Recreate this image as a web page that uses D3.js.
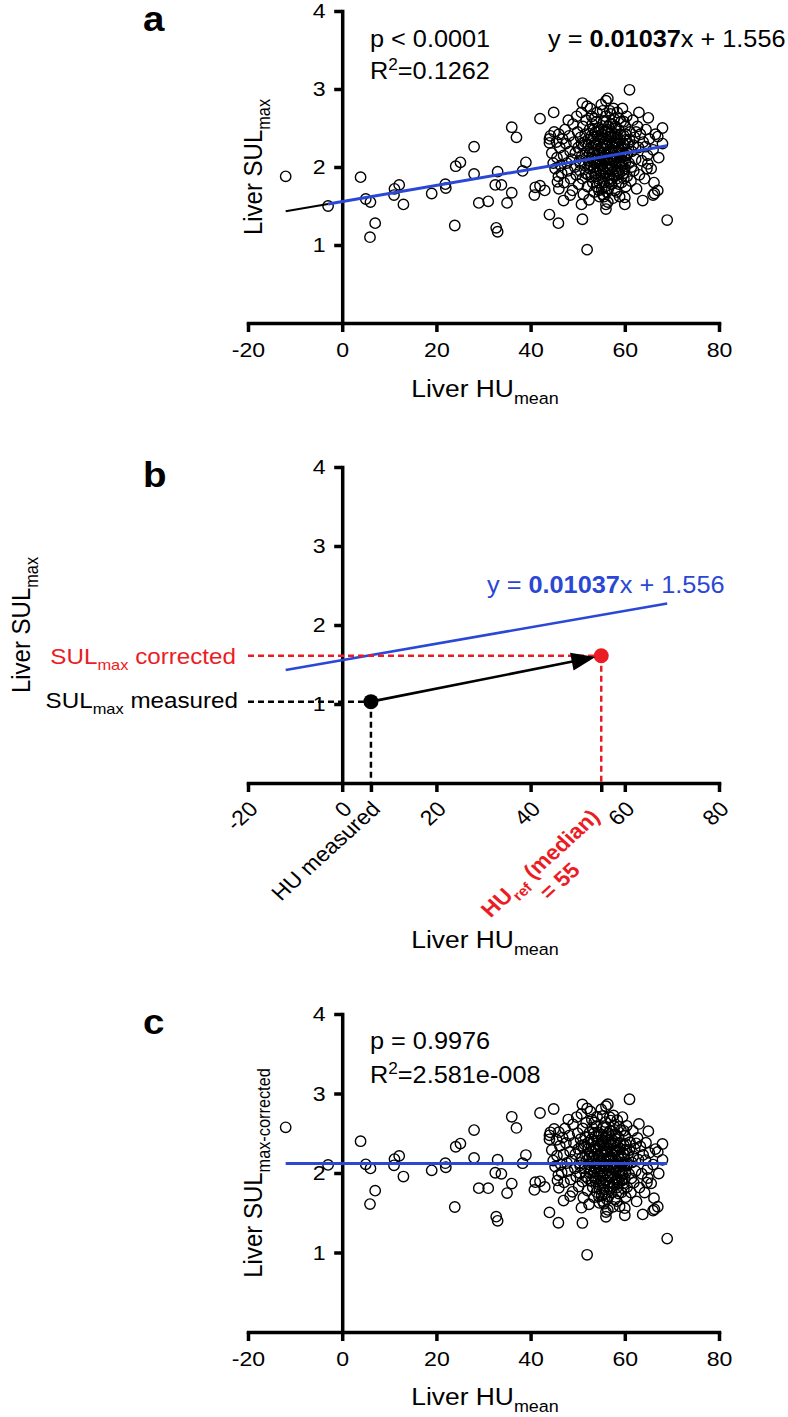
<!DOCTYPE html>
<html><head><meta charset="utf-8">
<script src="https://cdn.jsdelivr.net/npm/d3@7/dist/d3.min.js"></script>
<style>
html,body{margin:0;padding:0;background:#fff;}
svg text{font-family:"Liberation Sans",Arial,Helvetica,sans-serif;}
</style></head>
<body>
<svg id="chart" width="788" height="1417"></svg>
<script>
// ---------------- data ----------------
const huTicks = [-20, 0, 20, 40, 60, 80];
const sulTicks = [1, 2, 3, 4];

// sparse points of panel a: [Liver HU_mean, Liver SUL_max]
const outlierPoints = [
  [-12,1.88],[-3,1.50],[3.9,1.87],[5,1.59],[6,1.55],[7,1.28],[5.9,1.10],[11,1.64],[11.1,1.72],[12.1,1.77],
  [13,1.52],[19,1.66],[21.9,1.78],[22,1.73],[23.9,1.25],[24.1,2.01],[25.1,2.06],[28,2.26],[28,1.91],[29,1.54],
  [31,1.56],[32.5,1.77],[33.8,1.77],[32.7,1.22],[33,1.17],[33,1.94],[35,1.54],[36,1.67],[36,2.51],[37,2.38],
  [38.3,1.95],[39,2.06],[40.8,1.64],[41,1.74],[42,1.76],[42,2.62],[43,1.70],[44,1.39],[44,2.36],[44,2.31],
  [44.9,2.70],[45.7,1.81],[45.9,1.28],[46,1.72],[47,1.57],[48.4,1.64],[50.8,1.52],[51,1.33],[51,2.82],[52,0.94],
  [52,2.78],[56,2.85],[56,1.52],[56,1.46],[60,1.61],[60,1.52],[61,2.99],[63,2.70],[63.8,1.57],[64.4,2.26],
  [64.9,2.04],[64.7,1.98],[65,2.63],[66,1.64],[66.3,1.66],[67,1.70],[67,2.39],[68,2.50],[68,2.30],[69,1.32]
];
// dense cluster of panel a
const clusterPoints = [
  [44.2,2.40],[44.5,2.18],[44.8,2.05],[45.0,2.45],[45.2,1.98],[45.5,2.32],[45.6,2.12],[45.9,1.88],[46.0,2.42],[46.2,2.25],
  [46.4,2.02],[46.6,1.92],[46.8,2.36],[47.0,2.15],[47.1,1.80],[47.3,2.48],[47.5,2.30],[47.7,2.05],[47.9,1.95],[48.0,2.60],
  [48.2,2.40],[48.4,2.20],[48.5,1.85],[48.7,2.10],[48.9,1.70],[49.0,2.55],[49.2,2.32],[49.4,2.00],[49.5,2.18],[49.7,1.90],
  [49.8,2.65],[50.0,2.45],[50.1,2.25],[50.2,1.78],[50.4,2.08],[50.5,1.95],[50.6,2.38],[50.8,2.70],[50.9,2.15],[51.0,1.85],
  [51.1,2.52],[51.2,1.65],[51.3,2.28],[51.5,2.02],[51.6,2.42],[51.7,1.92],[51.8,2.60],[52.0,2.20],[52.1,1.75],[52.2,2.35],
  [52.3,2.08],[52.4,1.58],[52.5,2.48],[52.6,1.98],[52.7,2.75],[52.8,2.25],[52.9,1.88],[53.0,2.12],[53.1,2.55],[53.2,1.80],
  [53.3,2.38],[53.4,2.00],[53.5,1.68],[53.5,2.62],[53.6,2.22],[53.7,1.92],[53.8,2.45],[53.9,2.05],[54.0,1.75],[54.0,2.30],
  [54.1,2.70],[54.2,1.98],[54.3,2.15],[54.4,1.85],[54.5,2.50],[54.5,2.08],[54.6,1.62],[54.7,2.35],[54.8,1.95],[54.9,2.25],
  [55.0,2.80],[55.0,2.02],[55.1,1.72],[55.2,2.42],[55.3,2.12],[55.4,1.88],[55.5,2.58],[55.5,2.18],[55.6,1.80],[55.7,2.32],
  [55.8,2.00],[55.9,2.65],[56.0,1.92],[56.0,2.40],[56.1,2.10],[56.2,1.68],[56.3,2.28],[56.4,1.55],[56.5,2.52],[56.5,2.05],
  [56.6,1.85],[56.7,2.20],[56.8,2.72],[56.9,1.96],[57.0,2.38],[57.1,2.10],[57.2,1.78],[57.3,2.55],[57.4,2.00],[57.5,2.25],
  [57.6,1.90],[57.7,2.62],[57.8,2.15],[57.9,1.70],[58.0,2.42],[58.1,2.05],[58.2,2.32],[58.3,1.85],[58.4,2.70],[58.5,2.12],
  [58.6,1.95],[58.7,2.48],[58.8,2.22],[58.9,1.62],[59.0,2.35],[59.1,2.00],[59.2,2.58],[59.3,1.80],[59.4,2.18],[59.5,2.75],
  [59.6,2.08],[59.7,1.92],[59.8,2.40],[59.9,2.28],[60.0,1.98],[60.1,2.52],[60.2,1.75],[60.3,2.15],[60.4,2.65],[60.5,1.88],
  [60.7,2.30],[60.9,2.05],[61.1,2.45],[61.3,1.82],[61.5,2.20],[61.7,2.60],[61.9,1.95],[62.1,2.38],[62.3,2.10],[62.5,1.72],
  [62.7,2.52],[62.9,2.25],[63.1,1.90],[63.3,2.42],[63.6,2.08],[63.9,2.32],[64.2,1.85],[64.5,2.48],[64.8,2.15],[65.2,2.36],
  [65.6,1.98],[66.0,2.22],[66.5,2.42],[67.2,2.12],[66.2,1.80],[53.2,2.18],[53.6,2.05],[53.9,2.28],[54.2,2.40],[54.4,2.20],
  [54.7,2.05],[54.9,1.90],[55.2,2.25],[55.4,2.35],[55.6,2.08],[55.8,2.45],[56.1,2.30],[56.3,1.98],[56.6,2.38],[56.8,2.12],
  [57.0,1.98],[57.2,2.45],[57.4,2.30],[57.6,2.08],[57.8,1.88],[58.0,2.20],[58.2,1.95],[58.4,2.38],[58.6,2.25],[58.9,2.05],
  [59.1,2.42],[59.3,2.15],[59.6,2.30],[59.8,1.85],[60.1,2.05],[60.3,2.35],[53.4,2.48],[54.0,2.58],[55.0,2.48],[56.0,2.58],
  [57.0,2.68],[58.0,2.52],[52.5,2.18],[52.8,2.02],[51.8,2.12],[51.5,2.32],[50.8,2.30],[50.5,2.05],[54.6,1.80],[55.8,1.75],
  [56.9,1.82],[57.9,2.30],[58.7,1.78],[59.4,1.95],[53.8,1.88],[52.2,1.90],[55.3,1.65],[56.5,1.72],[57.5,1.60],[58.3,1.68],
  [52.3,2.28],[52.9,2.40],[53.3,1.95],[53.7,2.32],[54.1,2.10],[54.3,2.45],[54.8,2.15],[55.1,2.38],[55.3,1.98],[55.7,2.12],
  [55.9,2.28],[56.2,2.48],[56.4,2.18],[56.7,1.90],[57.1,2.22],[57.3,1.85],[57.7,2.40],[57.9,2.10],[58.1,2.50],[58.5,2.32],
  [58.8,1.92],[59.0,2.12],[59.2,2.25],[59.5,2.02],[59.9,2.15],[60.2,2.42],[60.6,2.18],[61.0,2.35],[61.4,2.00],[61.8,2.28],
  [54.5,1.70],[55.6,1.62],[56.9,2.55],[57.6,2.75],[58.8,2.62],[53.0,2.65],[55.3,2.72],[56.4,2.88],[59.8,2.58],[62.4,2.45]
];

// linear fit of panel a (as printed on the chart)
const fitSlope = 0.01037;
const fitIntercept = 1.556;
const fitRange = [-3, 69];
const fitExtension = [-12, -3];
const fitRangeB = [-12, 69];
// panel c fit (slope ~0)
const correctedFitLevel = 2.12;
const correctedFitRange = [-12, 69];
// panel b schematic
const huRef = 55;
const exampleMeasured = [6.1, 1.03];
const exampleCorrected = [55, 1.61];

// ---------------- drawing ----------------
const svg = d3.select('#chart');
const SX = 1.1, FS = 21, AS = 23, TS = 24;
const FONT = '"Liberation Sans", Arial, Helvetica, sans-serif';
const BLUE = '#2a47d6', RED = '#ec1c24';

const measuredPoints = outlierPoints.concat(clusterPoints);
// SUL_max-corrected = SUL_max + slope * (HU_ref - HU)
const correctedPoints = measuredPoints.map(([h, s]) => [h, s + fitSlope * (huRef - h)]);

const x = d3.scaleLinear().domain([-20, 80]).range([248, 719]);
const yA = d3.scaleLinear().domain([0, 4]).range([323, 11]);
const yB = d3.scaleLinear().domain([0, 4]).range([783, 467]);
const yC = d3.scaleLinear().domain([0, 4]).range([1332, 1014]);

function rich(parent, px, py, segs, o = {}) {
  const size = o.size || AS;
  let tr = `translate(${px},${py}) scale(${SX},1)`;
  if (o.rotate) tr += ` rotate(${o.rotate})`;
  const t = parent.append('text').attr('transform', tr)
    .attr('x', o.lx || 0).attr('y', o.ly || 0)
    .attr('text-anchor', o.anchor || 'start')
    .attr('font-size', size)
    .attr('font-weight', o.weight || 'normal')
    .attr('fill', o.fill || '#000');
  let shift = 0;
  segs.forEach(s => {
    const seg = typeof s === 'string' ? { t: s } : s;
    const target = seg.sub ? size * 0.3 : seg.sup ? -size * 0.38 : 0;
    const ts = t.append('tspan').text(seg.t).attr('dy', target - shift);
    if (seg.sub || seg.sup) ts.attr('font-size', size * 0.68);
    if (seg.bold) ts.attr('font-weight', 'bold');
    if (seg.fill) ts.attr('fill', seg.fill);
    shift = target;
  });
  return t;
}

function drawAxes(y, xVals, rotated) {
  const base = y(0);
  const gx = svg.append('g').attr('transform', `translate(0,${base})`)
    .call(d3.axisBottom(x).tickValues(xVals).tickSizeInner(9).tickSizeOuter(0).tickPadding(10)
      .tickFormat(d => huTicks.includes(d) ? String(d) : ''));
  const gy = svg.append('g').attr('transform', `translate(${x(0)},0)`)
    .call(d3.axisLeft(y).tickValues(sulTicks).tickSizeInner(8).tickSizeOuter(0).tickPadding(7)
      .tickFormat(d => String(d)));
  [gx, gy].forEach(g => {
    g.attr('font-family', FONT).attr('font-size', FS);
    g.select('.domain').attr('stroke', '#000').attr('stroke-width', 3.5).attr('stroke-linecap', 'square');
    g.selectAll('.tick line').attr('stroke', '#000').attr('stroke-width', 3.5);
    g.selectAll('.tick text').attr('fill', '#000');
  });
  gy.selectAll('.tick text').attr('transform', `scale(${SX},1)`);
  if (rotated) {
    gx.selectAll('.tick text').attr('y', 0).attr('dy', '0.35em').attr('text-anchor', 'end')
      .attr('transform', `translate(5,22) scale(${SX},1) rotate(-45)`);
  } else {
    gx.selectAll('.tick text').attr('transform', `scale(${SX},1)`);
  }
}

function scatter(pts, y) {
  svg.append('g').selectAll('circle').data(pts).join('circle')
    .attr('cx', d => x(d[0])).attr('cy', d => y(d[1])).attr('r', 5.2)
    .attr('fill', 'none').attr('stroke', '#000').attr('stroke-width', 1.4);
}

const fitLine = y => d3.line().x(d => x(d)).y(d => y(fitSlope * d + fitIntercept));

// ---------- panel a ----------
drawAxes(yA, huTicks, false);
scatter(measuredPoints, yA);
svg.append('path').datum(fitExtension).attr('d', fitLine(yA))
  .attr('stroke', '#000').attr('stroke-width', 2).attr('fill', 'none');
svg.append('path').datum(fitRange).attr('d', fitLine(yA))
  .attr('stroke', BLUE).attr('stroke-width', 3).attr('fill', 'none');
rich(svg, 143, 31, ['a'], { size: 35, weight: 'bold' });
rich(svg, 370, 47, ['p < 0.0001']);
rich(svg, 370, 79, ['R', { t: '2', sup: true }, '=0.1262']);
rich(svg, 548, 47, ['y = ', { t: '0.01037', bold: true }, 'x + 1.556']);
rich(svg, 262, (yA(0) + yA(4)) / 2, ['Liver SUL', { t: 'max', sub: true }], { size: TS, rotate: -90, anchor: 'middle' });
rich(svg, 485, 397, ['Liver HU', { t: 'mean', sub: true }], { size: TS, anchor: 'middle' });

// ---------- panel b ----------
const [mHU, mSUL] = exampleMeasured;
const [cHU, cSUL] = exampleCorrected;
drawAxes(yB, [-20, 0, mHU, 20, 40, cHU, 60, 80], true);
const gB = svg.append('g');
gB.append('path').datum(fitRangeB).attr('d', fitLine(yB))
  .attr('stroke', BLUE).attr('stroke-width', 2.6).attr('fill', 'none');
// dashed guides
gB.append('line').attr('x1', x(-20)).attr('x2', x(cHU)).attr('y1', yB(cSUL)).attr('y2', yB(cSUL))
  .attr('stroke', RED).attr('stroke-width', 2.5).attr('stroke-dasharray', '6,4');
gB.append('line').attr('x1', x(cHU)).attr('x2', x(cHU)).attr('y1', yB(cSUL)).attr('y2', yB(0))
  .attr('stroke', RED).attr('stroke-width', 2.5).attr('stroke-dasharray', '6,4');
gB.append('line').attr('x1', x(-20)).attr('x2', x(mHU)).attr('y1', yB(mSUL)).attr('y2', yB(mSUL))
  .attr('stroke', '#000').attr('stroke-width', 2.5).attr('stroke-dasharray', '6,4');
gB.append('line').attr('x1', x(mHU)).attr('x2', x(mHU)).attr('y1', yB(mSUL)).attr('y2', yB(0))
  .attr('stroke', '#000').attr('stroke-width', 2.5).attr('stroke-dasharray', '6,4');
// arrow
{
  const x0 = x(mHU), y0 = yB(mSUL), x1 = x(cHU), y1 = yB(cSUL);
  const L = Math.hypot(x1 - x0, y1 - y0), ux = (x1 - x0) / L, uy = (y1 - y0) / L;
  const tipX = x1 - ux * 6, tipY = y1 - uy * 6;
  const bX = tipX - ux * 24, bY = tipY - uy * 24;
  gB.append('line').attr('x1', x0).attr('y1', y0).attr('x2', bX + ux * 2).attr('y2', bY + uy * 2)
    .attr('stroke', '#000').attr('stroke-width', 2.6);
  gB.append('circle').attr('cx', x0).attr('cy', y0).attr('r', 7.5).attr('fill', '#000');
  gB.append('circle').attr('cx', x1).attr('cy', y1).attr('r', 7.5).attr('fill', RED);
  gB.append('path').attr('d', `M${tipX},${tipY}L${bX - uy * 9},${bY + ux * 9}L${bX + uy * 9},${bY - ux * 9}Z`)
    .attr('fill', '#000');
}
rich(svg, 143, 487, ['b'], { size: 35, weight: 'bold' });
rich(svg, 487, 593, ['y = ', { t: '0.01037', bold: true }, 'x + 1.556'], { fill: BLUE });
rich(svg, x(-20) - 12, yB(cSUL) + 8, ['SUL', { t: 'max', sub: true }, ' corrected'], { fill: RED, anchor: 'end', size: 22 });
rich(svg, x(-20) - 10, yB(mSUL) + 6, ['SUL', { t: 'max', sub: true }, ' measured'], { anchor: 'end', size: 22 });
rich(svg, 30, (yB(0) + yB(4)) / 2, ['Liver SUL', { t: 'max', sub: true }], { size: TS, rotate: -90, anchor: 'middle' });
rich(svg, x(mHU) + 5, yB(0) + 22, ['HU measured'], { rotate: -45, anchor: 'end', ly: FS * 0.35, size: FS });
{
  const l1 = rich(svg, x(cHU) - 6, yB(0) + 30, ['HU', { t: 'ref', sub: true }, ' (median)'],
    { rotate: -45, anchor: 'end', ly: FS * 0.35, fill: RED, weight: 'bold', size: FS });
  const w = l1.node().getComputedTextLength();
  rich(svg, x(cHU) - 6, yB(0) + 30, ['= ' + huRef],
    { rotate: -45, anchor: 'middle', lx: -w / 2, ly: FS * 0.35 + 25, fill: RED, weight: 'bold', size: FS });
}
rich(svg, 485, 948, ['Liver HU', { t: 'mean', sub: true }], { size: TS, anchor: 'middle' });

// ---------- panel c ----------
drawAxes(yC, huTicks, false);
scatter(correctedPoints, yC);
svg.append('path').datum(correctedFitRange)
  .attr('d', d3.line().x(d => x(d)).y(() => yC(correctedFitLevel)))
  .attr('stroke', BLUE).attr('stroke-width', 3).attr('fill', 'none');
rich(svg, 143, 1034, ['c'], { size: 35, weight: 'bold' });
rich(svg, 370, 1049, ['p = 0.9976']);
rich(svg, 370, 1083, ['R', { t: '2', sup: true }, '=2.581e-008']);
rich(svg, 262, (yC(0) + yC(4)) / 2, ['Liver SUL', { t: 'max-corrected', sub: true }], { size: TS, rotate: -90, anchor: 'middle' });
rich(svg, 485, 1405, ['Liver HU', { t: 'mean', sub: true }], { size: TS, anchor: 'middle' });
</script>
</body></html>
